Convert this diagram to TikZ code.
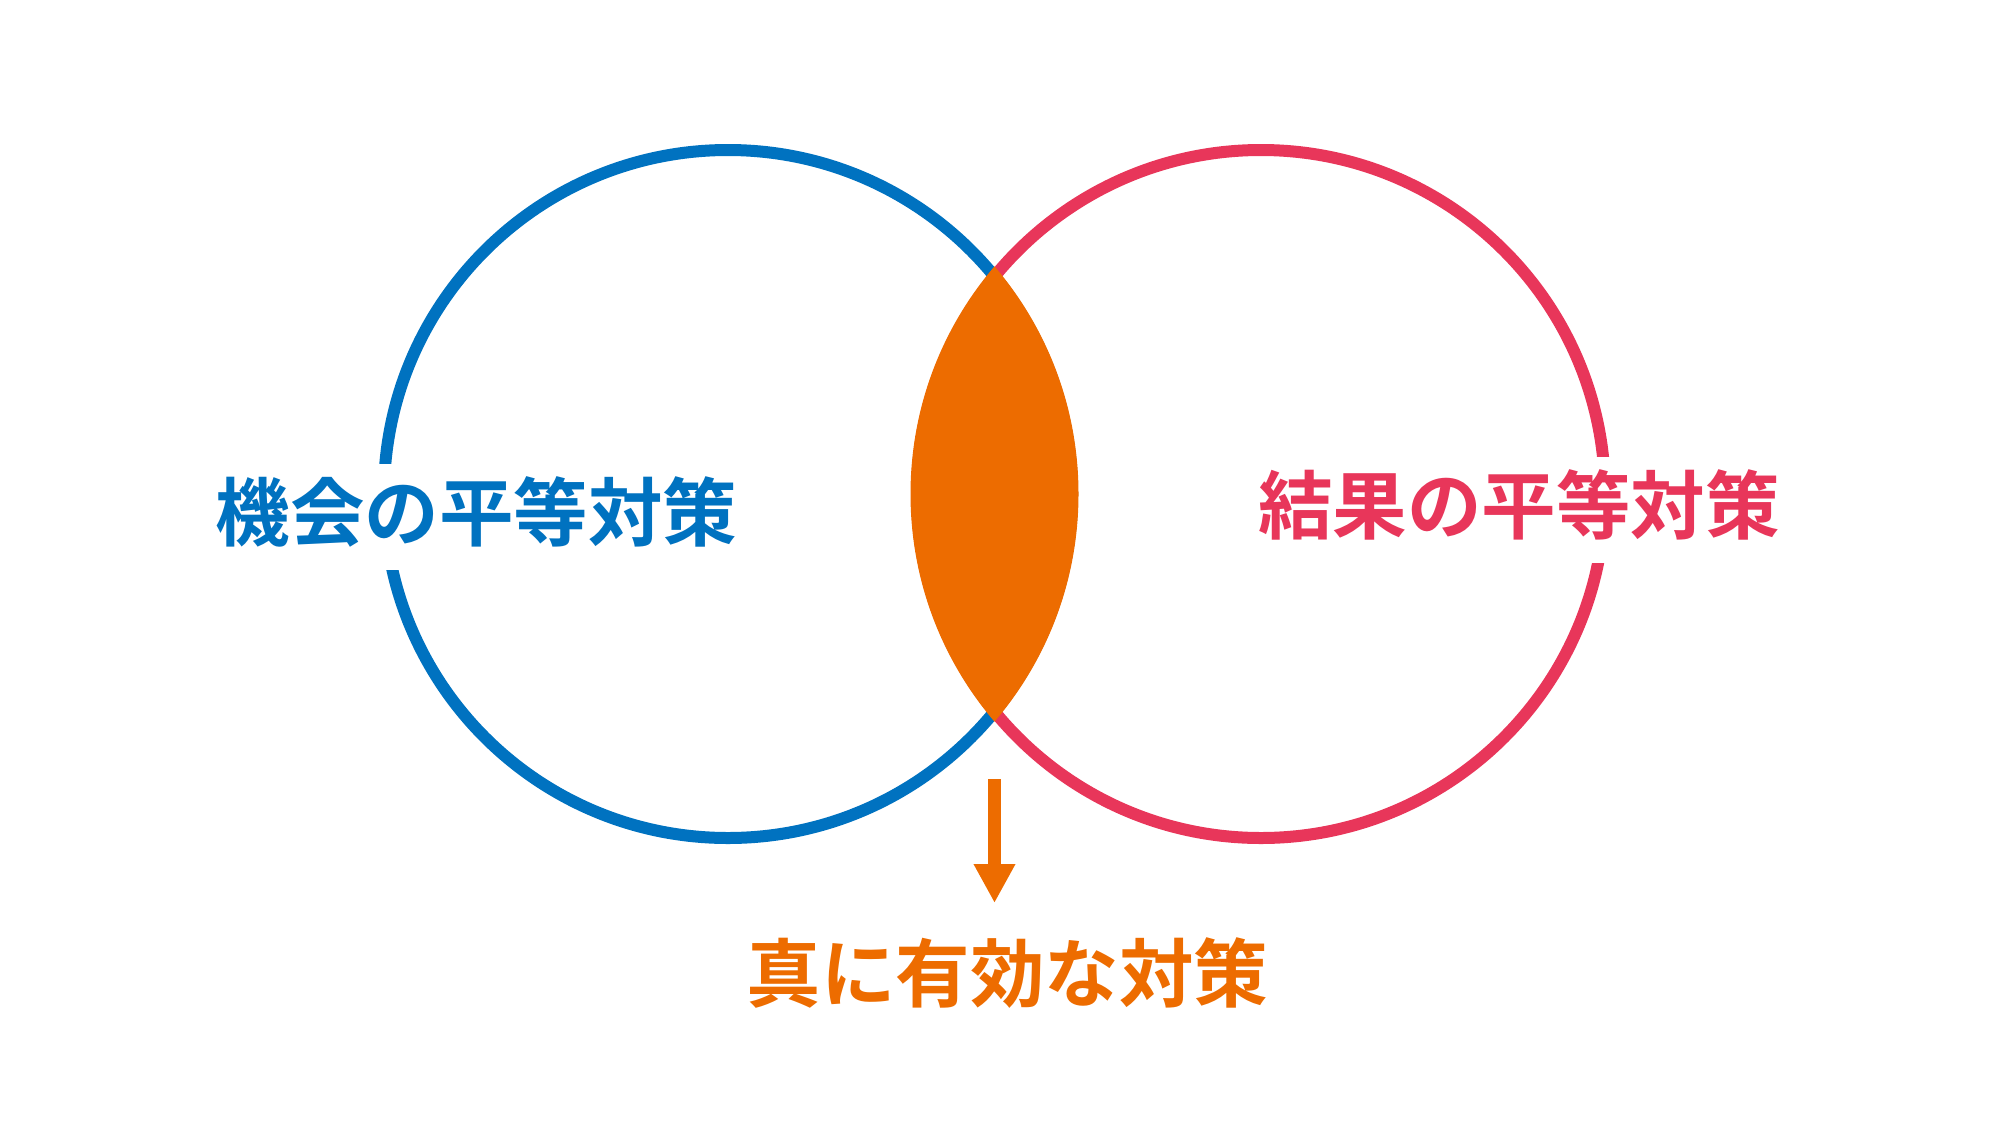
\documentclass[tikz,border=0pt]{standalone}
\usepackage{fontspec}
\usetikzlibrary{arrows.meta}
\newfontfamily\cjk{Noto Sans CJK JP Bold}
\definecolor{cblue}{RGB}{0,114,192}
\definecolor{cred}{RGB}{232,54,90}
\definecolor{corange}{RGB}{237,108,0}
\begin{document}
\begin{tikzpicture}[x=1pt,y=-1pt,
  ring/.style={line width=12pt},
  lbl/.style={font=\cjk\fontsize{74.5}{80}\selectfont, anchor=base,
    inner xsep=6pt, inner ysep=0pt, text height=76pt, text depth=30pt},
  arrowline/.style={draw=corange, line width=12.7pt, -{Triangle[width=39pt,length=39pt]}}
]
\useasboundingbox (0,0) rectangle (1999,1125);
\coordinate (cL) at (728,494);
\coordinate (cR) at (1261,494);
\draw[ring, draw=cblue] (cL) circle[radius=344];
\draw[ring, draw=cred] (cR) circle[radius=344];
\begin{scope}
  \clip (cL) circle[radius=350.5];
  \fill[corange] (cR) circle[radius=350.5];
\end{scope}
\node[lbl, fill=white, text=cblue] (opp) at (476.5,540) {機会の平等対策};
\node[lbl, fill=white, text=cred] (res) at (1519,533) {結果の平等対策};
\node[lbl, text=corange] (eff) at (1007.5,1001) {真に有効な対策};
\coordinate (aS) at (994.5,779);
\coordinate (aE) at (994.5,903);
\draw[arrowline] (aS) -- (aE);
\end{tikzpicture}
\end{document}
